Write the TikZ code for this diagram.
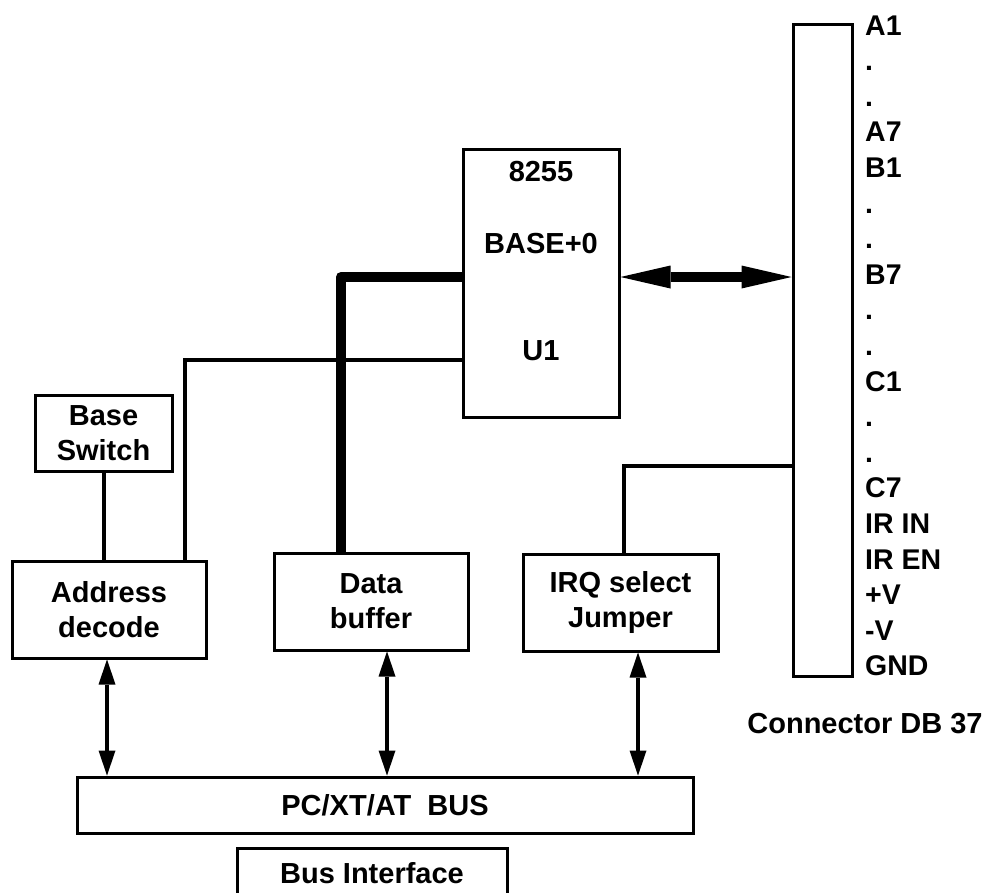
\documentclass[tikz,border=0pt]{standalone}
\usepackage{fontspec}
\setmainfont{Liberation Sans}
\usetikzlibrary{arrows.meta}

\begin{document}
\begin{tikzpicture}[
    x=1pt, y=-1pt,
    every node/.style={font=\bfseries\fontsize{29}{35}\selectfont},
    block/.style={rectangle, draw, line width=3pt, align=center, inner sep=0pt},
    pinlabel/.style={anchor=base west, inner sep=0pt, font=\bfseries\fontsize{28.5}{32}\selectfont},
    wire/.style={line width=4pt},
    databus/.style={line width=10pt, line join=round},
    io/.style={line width=4pt, {Triangle[length=25pt,width=17pt,line width=0pt]}-{Triangle[length=25pt,width=17pt,line width=0pt]}},
    portio/.style={line width=10pt, {Triangle[length=50pt,width=23pt,line width=0pt]}-{Triangle[length=50pt,width=23pt,line width=0pt]}}
]
\useasboundingbox (0,0) rectangle (990,892);
\clip (0,0) rectangle (990,892);

% 8255 chip
\node[block, minimum width=156pt, minimum height=268pt] (chip) at (541,283) {};
\node (chipname) at (541,172) {8255};
\node (chipbase) at (541,244) {BASE+0};
\node (chipref)  at (541,351) {U1};

% connector and its pins
\node[block, minimum width=59pt, minimum height=652pt] (conn) at (822.5,350) {};
\foreach \pin [count=\i from 0] in {A1,.,.,A7,B1,.,.,B7,.,.,C1,.,.,C7,IR IN,IR EN,+V,-V,GND}
    \node[pinlabel] (pin\i) at (865,35+35.6*\i) {\pin};
\node[anchor=base] (conntitle) at (865,733) {Connector DB 37};

% board blocks
\node[block, minimum width=137pt, minimum height=76pt] (baseswitch) at (103.5,433) {Base\\Switch};
\node[block, minimum width=194pt, minimum height=97pt] (addr) at (109,609.5) {Address\\decode};
\node[block, minimum width=194pt, minimum height=97pt] (databuf) at (371,601.5) {Data\\buffer};
\node[block, minimum width=195pt, minimum height=97pt] (irq) at (620.5,602.5) {IRQ select\\Jumper};

% bus
\node[block, minimum width=616pt, minimum height=56pt] (bus) at (385,805) {PC/XT/AT\ \ BUS};
\node[block, anchor=north, minimum width=270pt, minimum height=50pt] (busif) at (372,847) {Bus Interface};

% base switch to address decode
\draw[wire] (baseswitch.south) -- (baseswitch.south |- addr.north);

% address decode to 8255
\draw[wire] ([xshift=76pt]addr.north) |- ([yshift=-77pt]chip.west);

% data buffer to 8255
\draw[databus] ([xshift=-30pt]databuf.north) |- ([yshift=6pt]chip.west);

% 8255 to connector
\draw[portio] ([yshift=6pt]chip.east) -- ([yshift=6pt]chip.east -| conn.west);

% IRQ jumper to connector
\draw[wire] ([xshift=3pt]irq.north) |- ([yshift=-116pt]conn.west);

% links to the bus
\draw[io] ([xshift=-2pt]addr.south) -- ([xshift=-2pt]addr.south |- bus.north);
\draw[io] ([xshift=16pt]databuf.south) -- ([xshift=16pt]databuf.south |- bus.north);
\draw[io] ([xshift=17.5pt]irq.south) -- ([xshift=17.5pt]irq.south |- bus.north);

\end{tikzpicture}
\end{document}
